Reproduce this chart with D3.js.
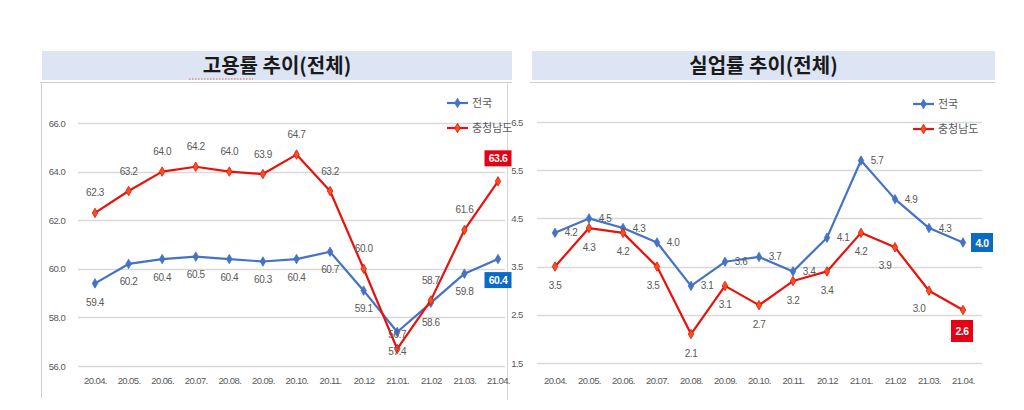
<!DOCTYPE html>
<html><head><meta charset="utf-8">
<script src="https://cdn.jsdelivr.net/npm/d3@7/dist/d3.min.js"></script>
<style>
body{margin:0;background:#fff;}
svg text{font-family:"Liberation Sans",Arial,sans-serif;}
.kr{font-family:"Noto Sans CJK KR","Noto Sans",sans-serif;}
</style></head><body>
<svg id="c" width="1024" height="410"></svg>
<script>
const months = ["20.04.","20.05.","20.06.","20.07.","20.08.","20.09.","20.10.","20.11.","20.12","21.01.","21.02","21.03.","21.04."];
const empNational = [59.4,60.2,60.4,60.5,60.4,60.3,60.4,60.7,59.1,57.4,58.6,59.8,60.4];
const empChungnam = [62.3,63.2,64.0,64.2,64.0,63.9,64.7,63.2,60.0,56.7,58.7,61.6,63.6];
const unNational = [4.2,4.5,4.3,4.0,3.1,3.6,3.7,3.4,4.1,5.7,4.9,4.3,4.0];
const unChungnam = [3.5,4.3,4.2,3.5,2.1,3.1,2.7,3.2,3.4,4.2,3.9,3.0,2.6];
const empTicks = [56,58,60,62,64,66];
const unTicks = [15,25,35,45,55,65];
const seriesNames = ["전국","충청남도"];
const titles = ["고용률 추이(전체)","실업률 추이(전체)"];

const svg = d3.select("#c");
const BLUE="#4472c4", RED="#e8120c", MARK="#f4511e", GRID="#d9d9d9", LBL="#595959";

function banner(x0,x1,title,squiggle){
  svg.append("rect").attr("x",x0).attr("y",51).attr("width",x1-x0).attr("height",29).attr("fill","#dde4f4");
  svg.append("line").attr("x1",x0-2).attr("x2",x1).attr("y1",82.5).attr("y2",82.5).attr("stroke","#cfcfcf");
  svg.append("text").attr("class","kr").attr("x",(x0+x1)/2).attr("y",73).attr("text-anchor","middle")
    .attr("font-size",20).attr("font-weight","bold").attr("fill","#1a1a1a").text(title);
  if(squiggle){
    svg.append("line").attr("x1",189).attr("x2",253).attr("y1",79).attr("y2",79)
      .attr("stroke","#e07050").attr("stroke-width",1.2).attr("stroke-dasharray","1.5,1.5");
  }
}
banner(42,512,titles[0],true);
banner(532,995,titles[1],false);

svg.append("line").attr("x1",41.5).attr("x2",41.5).attr("y1",83).attr("y2",398).attr("stroke","#cfcfcf");
svg.append("line").attr("x1",507.5).attr("x2",507.5).attr("y1",83).attr("y2",400).attr("stroke","#d5d5d5");

function mk(){ return d3.symbol().type(d3.symbolDiamond).size(26)(); }

function chart(cfg){
  const x = d3.scalePoint().domain(months).range([cfg.x0,cfg.x1]);
  const y = d3.scaleLinear().domain(cfg.domain).range([cfg.yb,cfg.yt]);
  const g = svg.append("g");
  g.selectAll(".gl").data(cfg.ticks).join("line")
    .attr("x1",cfg.gx0).attr("x2",cfg.gx1).attr("y1",d=>Math.round(y(d))+0.5).attr("y2",d=>Math.round(y(d))+0.5)
    .attr("stroke",GRID).attr("stroke-width",1.3);
  const ax = d3.axisLeft(y).tickValues(cfg.ticks).tickSize(0).tickFormat(cfg.tfmt);
  const ag = g.append("g").attr("transform",`translate(${cfg.lx},0)`).call(ax);
  ag.select(".domain").remove();
  ag.selectAll("text").attr("font-size",9.5).attr("fill",LBL).attr("font-family","Liberation Sans, Arial").attr("text-anchor","middle").attr("letter-spacing","-0.5");
  const xa = d3.axisBottom(x).tickSize(0);
  const xg = g.append("g").attr("transform",`translate(0,${cfg.xly})`).call(xa);
  xg.select(".domain").remove();
  xg.selectAll("text").attr("font-size",9.5).attr("fill",LBL).attr("font-family","Liberation Sans, Arial").attr("letter-spacing","-0.6");
  const line = d3.line().x((d,i)=>x(months[i])).y(d=>y(cfg.v(d)));
  const sets = [{data:cfg.nat,color:BLUE,mk:BLUE,lab:cfg.natLab},{data:cfg.cn,color:RED,mk:MARK,lab:cfg.cnLab}];
  sets.forEach(s=>{
    g.append("path").datum(s.data).attr("d",line).attr("fill","none").attr("stroke",s.color).attr("stroke-width",2.2).attr("stroke-linejoin","round");
    g.selectAll(null).data(s.data).join("path").attr("d",mk())
      .attr("transform",(d,i)=>`translate(${x(months[i])},${y(cfg.v(d))})`).attr("fill",s.mk).attr("stroke",s.color).attr("stroke-width",0.8);
  });
  sets.forEach((s,si)=>{
    s.data.forEach((d,i)=>{
      const px=x(months[i]), py=y(cfg.v(d));
      const o = s.lab(i);
      const txt = d.toFixed(1);
      if(i===12){
        const bw=o.bw||27, bh=o.bh||16;
        g.append("rect").attr("x",px+o.dx-bw/2).attr("y",py+o.dy-bh/2).attr("width",bw).attr("height",bh).attr("fill",si===0?"#0b6bc4":"#e60012");
        g.append("text").attr("x",px+o.dx).attr("y",py+o.dy+4).attr("text-anchor","middle").attr("font-size",10.5).attr("font-weight","bold").attr("fill","#fff").attr("letter-spacing","-0.5").text(txt);
      } else {
        g.append("text").attr("x",px+o.dx).attr("y",py+o.dy+3.5).attr("text-anchor","middle").attr("font-size",10).attr("fill",LBL).attr("letter-spacing","-0.4").text(txt);
      }
    });
  });
  [[BLUE,BLUE],[RED,MARK]].forEach((c,i)=>{
    const ly = cfg.legY + i*25;
    g.append("line").attr("x1",cfg.legX).attr("x2",cfg.legX+21).attr("y1",ly).attr("y2",ly).attr("stroke",c[0]).attr("stroke-width",2.2);
    g.append("path").attr("d",mk()).attr("transform",`translate(${cfg.legX+10.5},${ly})`).attr("fill",c[1]).attr("stroke",c[0]).attr("stroke-width",0.8);
    g.append("text").attr("class","kr").attr("x",cfg.legX+25).attr("y",ly+4).attr("font-size",11).attr("fill",LBL).text(seriesNames[i]);
  });
}

chart({
  x0:95,x1:498,domain:[56,66],yb:366,yt:123,ticks:empTicks,gx0:78,gx1:505,lx:60,xly:374,
  tfmt:d=>d.toFixed(1),v:d=>d,nat:empNational,cn:empChungnam,
  natLab:i=>(i===12?{dx:0,dy:21}:i===0?{dx:0,dy:19}:(i===9||i===10)?{dx:0,dy:20}:{dx:0,dy:18}),
  cnLab:i=>(i===12?{dx:0,dy:-23}:i===9?{dx:0,dy:-14}:{dx:0,dy:-20}),
  legX:447,legY:103
});

chart({
  x0:555,x1:963,domain:[15,65],yb:363,yt:122,ticks:unTicks,gx0:537,gx1:982,lx:520,xly:374,
  tfmt:d=>(d/10).toFixed(1),v:d=>d*10,nat:unNational,cn:unChungnam,
  natLab:i=>(i===12?{dx:19,dy:0,bh:19,bw:22}:{dx:16,dy:0}),
  cnLab:i=>(i===12?{dx:-1,dy:21,bh:22,bw:22}:(i===10||i===11)?{dx:-10,dy:18}:(i===3)?{dx:-4,dy:19}:{dx:0,dy:19}),
  legX:913,legY:104
});
</script>
</body></html>
